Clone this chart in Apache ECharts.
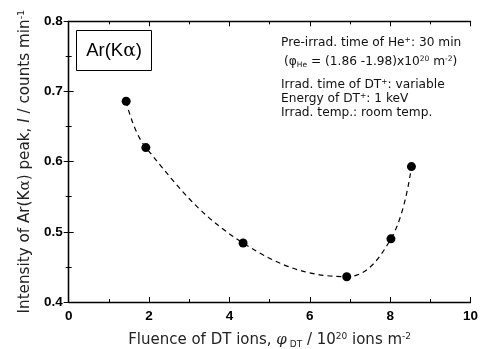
<!DOCTYPE html>
<html>
<head>
<meta charset="utf-8">
<script src="https://cdn.jsdelivr.net/npm/echarts@6/dist/echarts.min.js"></script>
<style>
  html, body { margin: 0; padding: 0; background: #fff; }
  #chart { width: 486px; height: 349px; }
</style>
</head>
<body>
<div id="chart"></div>
<script>
// DT fluence (10^20 ions m^-2) and Ar(Kα) peak intensity (counts/min)
const fluence = [1.43, 1.92, 4.34, 6.92, 8.02, 8.53];
const intensity = [0.686, 0.620, 0.484, 0.436, 0.490, 0.593];
const xTicks = [0, 2, 4, 6, 8, 10];
const yTicks = [0.4, 0.5, 0.6, 0.7, 0.8];

const FONT = '"Liberation Sans", Arial, sans-serif';
const WIDE = '"DejaVu Sans", sans-serif';
const points = fluence.map((x, i) => [x, intensity[i]]);

const chart = echarts.init(document.getElementById('chart'), null, { renderer: 'canvas' });

const axisLineStyle = { show: true, lineStyle: { color: '#000', width: 1.3 } };
const tickStyle = { show: true, inside: true, length: 5, lineStyle: { color: '#000', width: 1 } };
const minorStyle = { show: true, splitNumber: 2, length: 3, lineStyle: { color: '#000', width: 1 } };

const supNote = { fontSize: 7.5, verticalAlign: 'top', padding: [0, 0, 6, 0], fill: '#111', fontFamily: WIDE };
const subNote = { fontSize: 7.5, verticalAlign: 'bottom', padding: [6, 0, 0, 0], fill: '#111', fontFamily: WIDE };
const noteFont = '12.2px ' + WIDE;

chart.setOption({
  animation: false,
  backgroundColor: '#fff',
  grid: { left: 68.7, right: 15.5, top: 21.3, bottom: 47, containLabel: false, outerBoundsMode: 'none' },
  xAxis: [
    {
      type: 'value', min: xTicks[0], max: xTicks[xTicks.length - 1], interval: 2,
      position: 'bottom',
      axisLine: axisLineStyle, axisTick: tickStyle,
      minorTick: minorStyle,
      splitLine: { show: false },
      axisLabel: { color: '#000', fontFamily: FONT, fontWeight: 'bold', fontSize: 13.5, margin: 7 },
      name: 'Fluence of DT ions, {it|φ}{sub| DT} / 10{sup|20} ions m{sup|-2}',
      nameLocation: 'middle', nameGap: 30,
      nameTextStyle: {
        color: '#222', fontFamily: WIDE, fontSize: 15,
        rich: {
          it: { fontStyle: 'italic', fontSize: 15, fontFamily: '"DejaVu Serif", serif', color: '#222' },
          sub: { fontSize: 9, verticalAlign: 'bottom', padding: [7, 0, 0, 0], fontFamily: WIDE, color: '#222' },
          sup: { fontSize: 9, verticalAlign: 'top', padding: [0, 0, 8, 0], fontFamily: WIDE, color: '#222' }
        }
      }
    },
    {
      type: 'value', min: xTicks[0], max: xTicks[xTicks.length - 1], interval: 2,
      position: 'top',
      axisLine: axisLineStyle, axisTick: tickStyle,
      minorTick: minorStyle,
      splitLine: { show: false },
      axisLabel: { show: false }
    }
  ],
  yAxis: [
    {
      type: 'value', min: yTicks[0], max: yTicks[yTicks.length - 1], interval: 0.1,
      position: 'left',
      axisLine: axisLineStyle, axisTick: tickStyle,
      minorTick: minorStyle,
      splitLine: { show: false },
      axisLabel: {
        color: '#000', fontFamily: FONT, fontWeight: 'bold', fontSize: 13.5, margin: 6,
        formatter: v => v.toFixed(1)
      },
      name: 'Intensity of Ar(K{g|α}) peak, {it|I} / counts min{sup|-1}',
      nameLocation: 'middle', nameRotate: 90, nameGap: 23,
      nameTextStyle: {
        color: '#222', fontFamily: WIDE, fontSize: 15.2,
        rich: {
          g: { fontFamily: '"DejaVu Serif", serif', fontSize: 15.2, color: '#222' },
          it: { fontStyle: 'italic', fontSize: 15.2, fontFamily: WIDE, color: '#222' },
          sup: { fontSize: 9.5, verticalAlign: 'top', padding: [0, 0, 9, 0], fontFamily: WIDE, color: '#222' }
        }
      }
    },
    {
      type: 'value', min: yTicks[0], max: yTicks[yTicks.length - 1], interval: 0.1,
      position: 'right',
      axisLine: axisLineStyle, axisTick: tickStyle,
      minorTick: minorStyle,
      splitLine: { show: false },
      axisLabel: { show: false }
    }
  ],
  series: [
    {
      type: 'line',
      data: points,
      smooth: 0.4,
      symbol: 'circle',
      symbolSize: 9,
      itemStyle: { color: '#000' },
      lineStyle: { color: '#000', width: 1.2, type: [5, 4] },
      z: 3
    }
  ],
  graphic: [
    {
      type: 'rect',
      shape: { x: 76.5, y: 30.5, width: 75, height: 40 },
      style: { fill: '#fff', stroke: '#000', lineWidth: 1 },
      z: 10
    },
    {
      type: 'text',
      x: 114, y: 51,
      style: {
        text: 'Ar(K{g|α})',
        fill: '#000', font: '18.5px ' + FONT,
        align: 'center', verticalAlign: 'middle',
        rich: { g: { fontFamily: '"DejaVu Serif", serif', fontSize: 18.5, fill: '#000' } }
      },
      z: 11
    },
    {
      type: 'text',
      x: 281, y: 43,
      style: {
        text: 'Pre-irrad. time of He{sup|+}: 30 min',
        fill: '#111', font: noteFont, verticalAlign: 'middle',
        rich: { sup: supNote }
      },
      z: 11
    },
    {
      type: 'text',
      x: 284, y: 62,
      style: {
        text: '(φ{sub|He} = (1.86 -1.98)x10{sup|20} m{sup|-2})',
        fill: '#111', font: noteFont, verticalAlign: 'middle',
        rich: { sub: subNote, sup: supNote }
      },
      z: 11
    },
    {
      type: 'text',
      x: 281, y: 85,
      style: {
        text: 'Irrad. time of DT{sup|+}: variable',
        fill: '#111', font: noteFont, verticalAlign: 'middle',
        rich: { sup: supNote }
      },
      z: 11
    },
    {
      type: 'text',
      x: 281, y: 99,
      style: {
        text: 'Energy of DT{sup|+}: 1 keV',
        fill: '#111', font: noteFont, verticalAlign: 'middle',
        rich: { sup: supNote }
      },
      z: 11
    },
    {
      type: 'text',
      x: 281, y: 113,
      style: {
        text: 'Irrad. temp.: room temp.',
        fill: '#111', font: noteFont, verticalAlign: 'middle'
      },
      z: 11
    }
  ]
});
</script>
</body>
</html>
